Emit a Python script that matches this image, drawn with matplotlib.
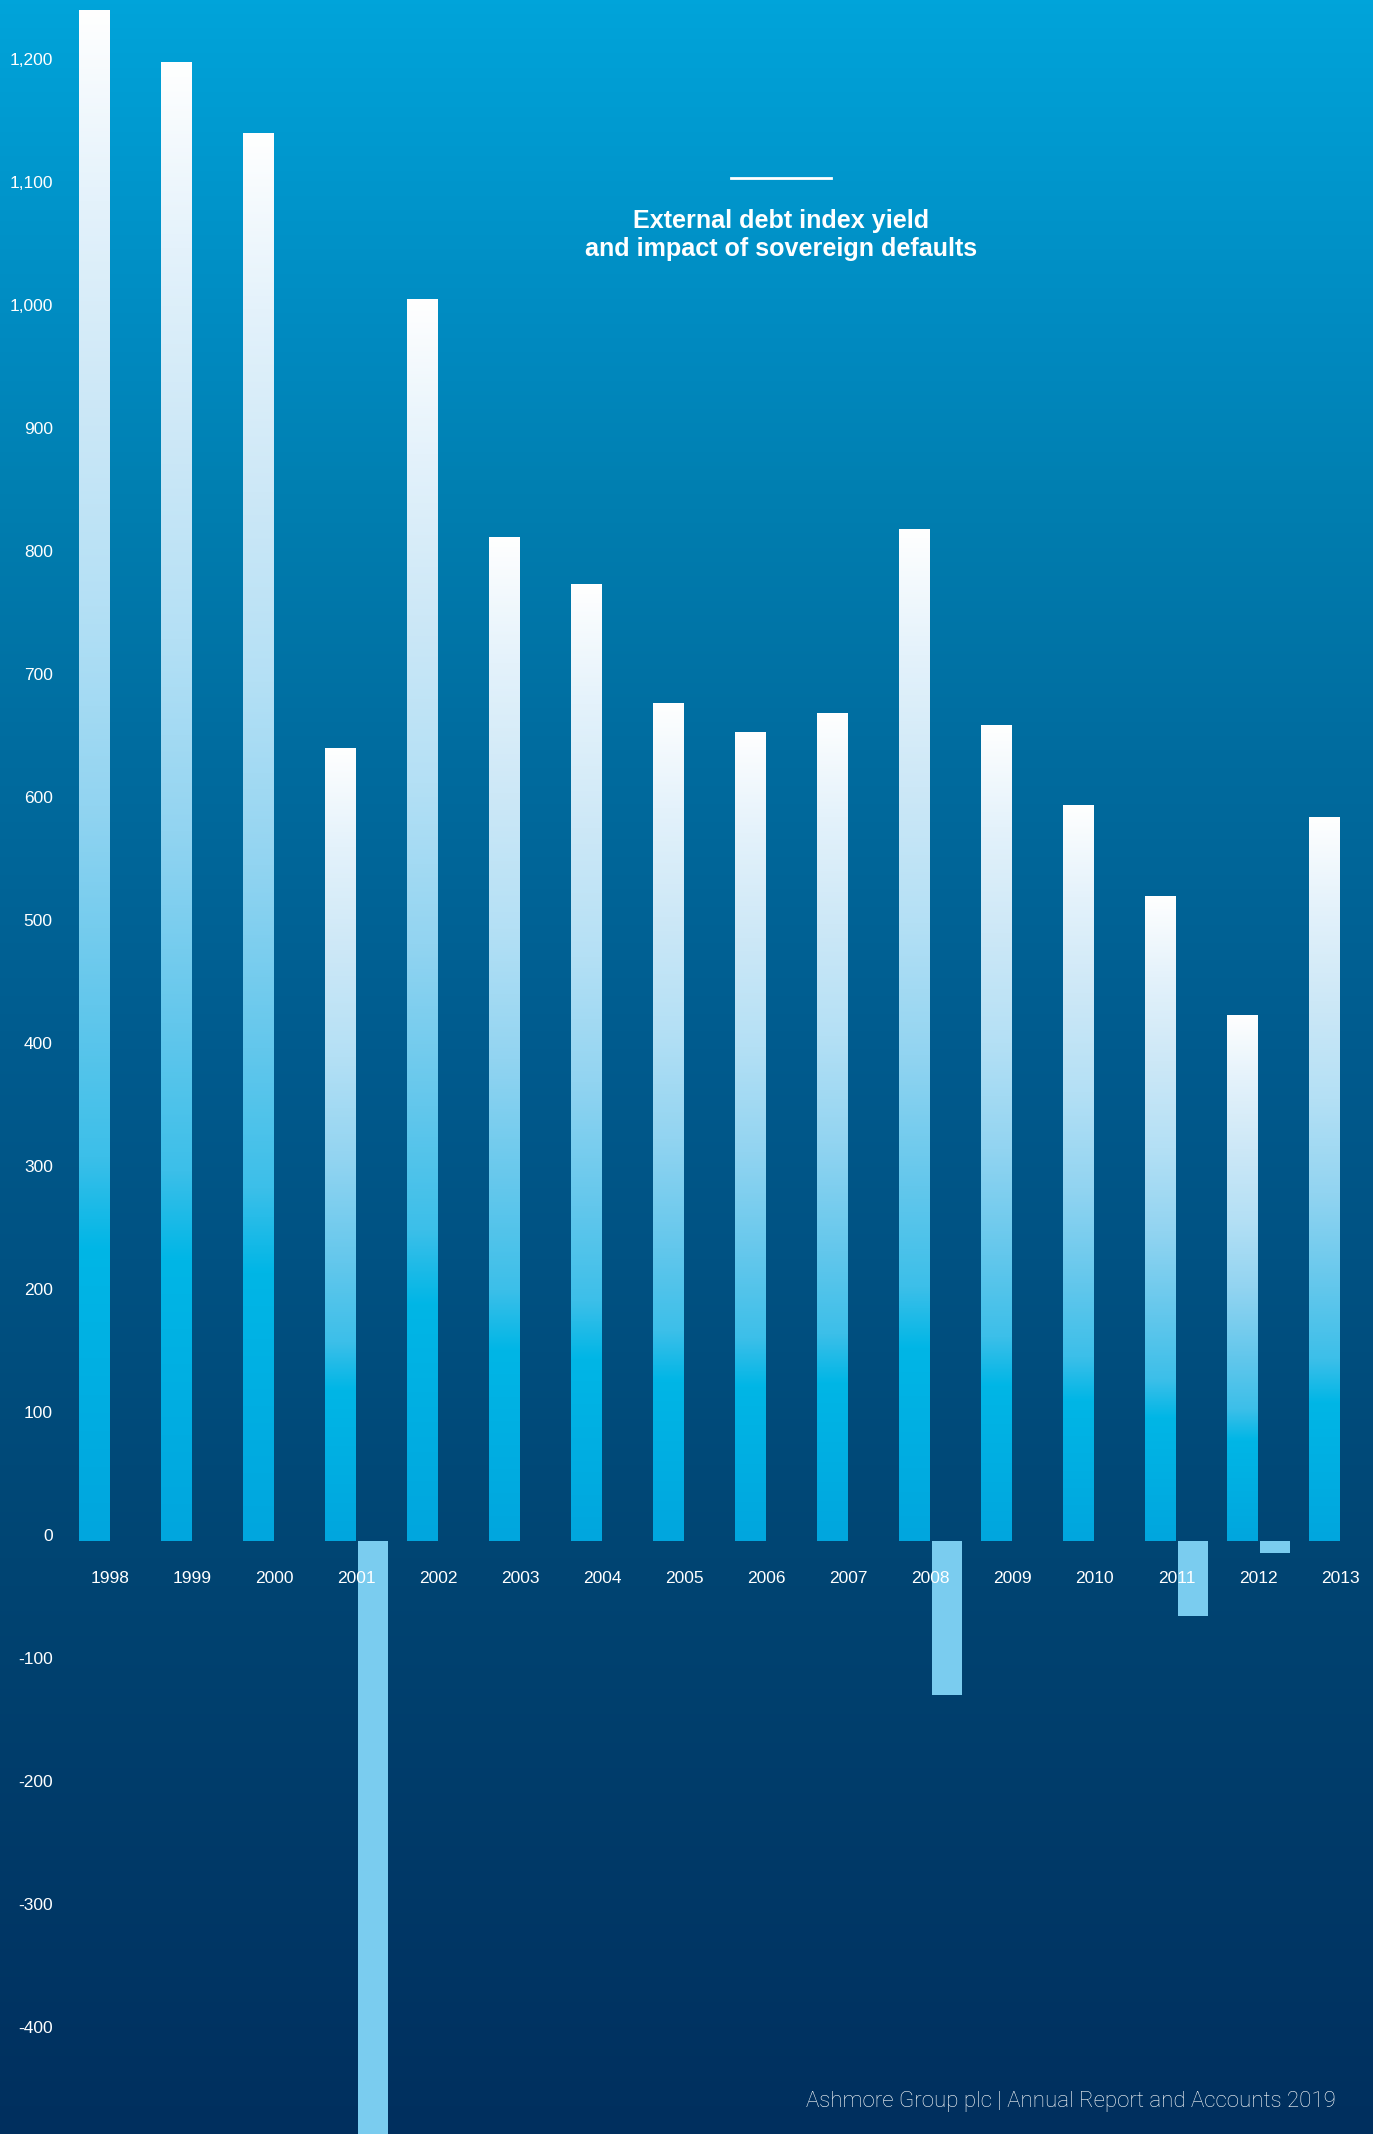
import matplotlib.pyplot as plt
import numpy as np
from matplotlib.colors import to_rgb
from matplotlib.lines import Line2D

years = ["1998", "1999", "2000", "2001", "2002", "2003", "2004", "2005",
         "2006", "2007", "2008", "2009", "2010", "2011", "2012", "2013"]
index_yield = [1245, 1202, 1145, 645, 1010, 816, 778, 681,
               658, 673, 823, 663, 598, 524, 428, 589]
default_impact = [0, 0, 0, -520, 0, 0, 0, 0,
                  0, 0, -125, 0, 0, -61, -9.5, 0]
y_ticks = list(range(-400, 1201, 100))
y_tick_labels = [f"{v:,}" for v in y_ticks]

W, H = 1373, 2134
fig = plt.figure(figsize=(W / 100, H / 100), dpi=100)


def ramp(stops, n=600):
    pos = np.array([s[0] for s in stops])
    cols = np.array([to_rgb(s[1]) for s in stops])
    t = np.linspace(0, 1, n)
    return np.stack([np.interp(t, pos, cols[:, k]) for k in range(3)], axis=1)


# background, top -> bottom
bg_stops = [(0.0, "#00A4DA"), (0.164, "#0089BF"), (0.225, "#0080B2"),
            (0.351, "#006C9F"), (0.492, "#005B8E"), (0.731, "#004573"),
            (1.0, "#002F5E")]
bg_ax = fig.add_axes([0, 0, 1, 1], zorder=-1)
bg_ax.imshow(ramp(bg_stops)[:, None, :], extent=[0, 1, 0, 1], origin="upper",
             aspect="auto")
bg_ax.axis("off")

ax = fig.add_axes([0, 0, 1, 1])
ax.set_facecolor("none")

x = np.arange(len(years))
bw = 0.366
off = 0.201

# bar fill, bottom -> top
bar_stops = [(0.0, "#00A6DE"), (0.19, "#00B6E6"), (0.25, "#3CBFE9"),
             (0.35, "#63C7EC"), (0.48, "#92D4F1"), (0.61, "#B4E0F5"),
             (0.745, "#CDE8F7"), (0.875, "#E4F2FB"), (1.0, "#FFFFFF")]
grad = ramp(bar_stops)[:, None, :]

bars = ax.bar(x - off, index_yield, width=bw, facecolor="none",
              edgecolor="none", zorder=2)
for p in bars:
    x0, y0 = p.get_x(), p.get_y()
    im = ax.imshow(grad, extent=[x0, x0 + p.get_width(), y0, y0 + p.get_height()],
                   origin="lower", aspect="auto", zorder=2)
    im.set_clip_path(p)

ax.bar(x + off, default_impact, width=bw, color="#7ACCEF", zorder=3)

ax.set_xlim(-1.348, 15.396)
ax.set_ylim(-482.1, 1252.8)

for sp in ax.spines.values():
    sp.set_visible(False)
ax.set_xticks([])
ax.set_yticks(y_ticks, y_tick_labels)
ax.tick_params(axis="y", length=0, pad=-38, labelcolor="white", labelsize=12.5)
for lbl in ax.get_yticklabels():
    lbl.set_verticalalignment("baseline")
    lbl.set_fontfamily("Liberation Sans")

for i, yr in enumerate(years):
    ax.annotate(yr, (i, 0), xytext=(0, -30.2), textcoords="offset points",
                ha="center", va="baseline", color="white", fontsize=12.5,
                family="Liberation Sans", zorder=5)

# title with rule above
tx = 781 / W
fig.add_artist(Line2D([731 / W, 831 / W], [1 - 178 / H, 1 - 178 / H],
                      color="white", lw=2))
fig.text(tx, 1 - 228 / H, "External debt index yield", ha="center",
         va="baseline", color="white", fontsize=18.1, fontweight="bold",
         family="Liberation Sans")
fig.text(tx, 1 - 256 / H, "and impact of sovereign defaults", ha="center",
         va="baseline", color="white", fontsize=18.1, fontweight="bold",
         family="Liberation Sans")

fig.text(1336 / W, 1 - 2107 / H,
         "Ashmore Group plc | Annual Report and Accounts 2019",
         ha="right", va="baseline", color="white", fontsize=16,
         family="Roboto", fontweight="light")

plt.savefig("out.png", dpi=100)
